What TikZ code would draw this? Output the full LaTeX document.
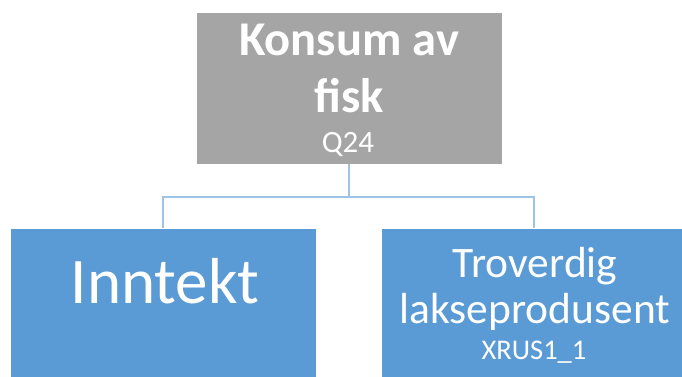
\documentclass[tikz,border=0pt]{standalone}
\usepackage{fontspec}
\setmainfont{Carlito}
\definecolor{grayfill}{HTML}{A5A5A5}
\definecolor{bluefill}{HTML}{5B9BD5}
\definecolor{connblue}{HTML}{9DC3E6}
\begin{document}
\begin{tikzpicture}[x=1pt,y=-1pt,
  box/.style={rectangle, draw=white, line width=0.6pt, minimum width=306pt, minimum height=152pt, inner sep=0pt, outer sep=0pt},
  graybox/.style={box, fill=grayfill},
  bluebox/.style={box, fill=bluefill},
  conn/.style={draw=connblue, line width=1.8pt},
  txt/.style={anchor=base, text=white, inner sep=0pt}]
\useasboundingbox (0,0) rectangle (682,376);
\fill[white] (0,0) rectangle (682,376);
\clip (0,0) rectangle (682,376);
\node[graybox] (top) at (349,88) {};
\node[bluebox] (left) at (163,304) {};
\node[bluebox] (right) at (534,304) {};
\coordinate (j) at (349,197);
\draw[conn] (top.south) -- (j);
\draw[conn] (j) -| (left.north);
\draw[conn] (j) -| (right.north);
\node[txt] (t1) at (349,55) {\fontsize{48.5}{57}\selectfont\bfseries Konsum av};
\node[txt] (t2) at (349,112) {\fontsize{48.5}{57}\selectfont\bfseries fisk};
\node[txt] (t3) at (348,152) {\fontsize{31}{36}\selectfont Q24};
\node[txt] (l1) at (165,303) {\fontsize{65}{78}\selectfont Inntekt};
\node[txt] (r1) at (535,277) {\fontsize{43.5}{52}\selectfont Troverdig};
\node[txt] (r2) at (535,323) {\fontsize{43.5}{52}\selectfont lakseprodusent};
\node[txt] (r3) at (534,359) {\fontsize{28.5}{34}\selectfont XRUS1\_1};
\end{tikzpicture}
\end{document}
